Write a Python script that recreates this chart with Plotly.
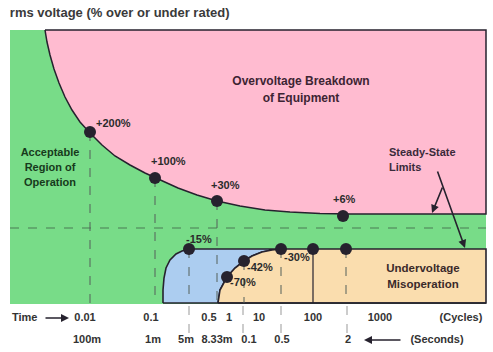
import plotly.graph_objects as go

# ---------------- data (schematic chart coordinates) ----------------
# plot frame
frame_x = [10, 486]
frame_y = [30, 304]
zero_line_y = 228          # rated voltage (dashed)

# overvoltage boundary curve
over_curve_x = [45, 47, 50, 54, 59, 65, 72, 80, 90, 102, 115, 130, 145, 160, 178, 197, 217, 240, 265, 290, 320, 350, 486]
over_curve_y = [30, 42, 55, 69, 83, 97, 110, 122, 133, 145, 156, 165, 173, 180, 188, 195, 201, 206, 210, 212, 213.5, 214, 214]

# undervoltage (blue) left boundary
blue_curve_x = [163, 163, 164, 166, 170, 176, 182, 189]
blue_curve_y = [303, 290, 278, 268, 260, 254, 251, 249]

# undervoltage (tan) boundary
tan_curve_x = [218, 220, 227, 235, 244, 252, 262, 272, 281]
tan_curve_y = [303, 290, 277, 268, 261, 256, 252, 250, 249]
under_level_y = 249
bottom_y = 303

# labelled points
over_pts_x = [90, 155, 217, 343]
over_pts_y = [132, 178, 201, 216]
over_labels = ["+200%", "+100%", "+30%", "+6%"]
over_lab_x = [96, 151, 211, 333]
over_lab_y = [124, 162, 186, 200]

under_pts_x = [189, 227, 244, 281, 313, 346]
under_pts_y = [249, 277, 261, 249, 249, 249]
under_labels = ["-15%", "-70%", "-42%", "-30%"]
under_lab_x = [186, 230, 247, 284]
under_lab_y = [240, 283, 268, 258]

# dashed verticals (x, top)
dash_x = [90, 155, 189, 217, 244, 281, 346]
dash_top = [132, 178, 249, 201, 261, 249, 249]
solid_x = 313
below_dash_x = [189, 243, 281, 347]

# axis labels
cycle_labels = ["0.01", "0.1", "0.5", "1", "10", "100", "1000"]
cycle_pos = [85, 151, 209, 229, 259, 313, 380]
second_labels = ["100m", "1m", "5m", "8.33m", "0.1", "0.5", "2"]
second_pos = [87, 153, 186, 217, 249, 282, 348]
row1_y = 318
row2_y = 340

# ---------------- styles ----------------
GREEN = "#78DC88"
PINK = "#FFBBD0"
BLUE = "#ACCDF0"
TAN = "#FADDAE"
DARK = "#26222E"
FONT = "Liberation Sans, Arial, sans-serif"

fig = go.Figure()

# green background
fig.add_trace(go.Scatter(
    x=[frame_x[0], frame_x[1], frame_x[1], frame_x[0], frame_x[0]],
    y=[frame_y[0], frame_y[0], frame_y[1], frame_y[1], frame_y[0]],
    fill="toself", fillcolor=GREEN, line=dict(width=0), mode="lines", hoverinfo="skip"))

# pink overvoltage region
px = over_curve_x + [frame_x[1], over_curve_x[0]]
py = over_curve_y + [frame_y[0], frame_y[0]]
fig.add_trace(go.Scatter(x=px, y=py, fill="toself", fillcolor=PINK,
                         line=dict(color=DARK, width=1.5), mode="lines", hoverinfo="skip"))

# blue region
bx = blue_curve_x + tan_curve_x[::-1]
by = blue_curve_y + tan_curve_y[::-1]
fig.add_trace(go.Scatter(x=bx, y=by, fill="toself", fillcolor=BLUE,
                         line=dict(color=DARK, width=1.6), mode="lines", hoverinfo="skip"))

# tan region
tx = tan_curve_x + [frame_x[1], frame_x[1], tan_curve_x[0]]
ty = tan_curve_y + [under_level_y, bottom_y, bottom_y]
fig.add_trace(go.Scatter(x=tx, y=ty, fill="toself", fillcolor=TAN,
                         line=dict(color=DARK, width=1.6), mode="lines", hoverinfo="skip"))

# bottom line under blue
fig.add_trace(go.Scatter(x=[blue_curve_x[0], frame_x[1]], y=[bottom_y, bottom_y],
                         mode="lines", line=dict(color=DARK, width=1.6), hoverinfo="skip"))

# dashed rated line
fig.add_trace(go.Scatter(x=frame_x, y=[zero_line_y, zero_line_y], mode="lines",
                         line=dict(color="#4a7a55", width=1, dash="dash"), hoverinfo="skip"))

# dashed verticals
for x0, y0 in zip(dash_x, dash_top):
    fig.add_trace(go.Scatter(x=[x0, x0], y=[y0, bottom_y], mode="lines",
                             line=dict(color="#55605a", width=1, dash="dash"), hoverinfo="skip"))
for x0 in below_dash_x:
    fig.add_trace(go.Scatter(x=[x0, x0], y=[306, 333], mode="lines",
                             line=dict(color="#999999", width=1, dash="dash"), hoverinfo="skip"))
fig.add_trace(go.Scatter(x=[solid_x, solid_x], y=[under_level_y, bottom_y], mode="lines",
                         line=dict(color=DARK, width=1.2), hoverinfo="skip"))

# points
fig.add_trace(go.Scatter(x=over_pts_x + under_pts_x, y=over_pts_y + under_pts_y, mode="markers",
                         marker=dict(size=12, color=DARK), hoverinfo="skip"))

def txt(xs, ys, labels, size=11, color="#2b2b2b", pos="middle right"):
    fig.add_trace(go.Scatter(x=xs, y=ys, text=labels, mode="text", textposition=pos,
                             textfont=dict(family=FONT, size=size, color=color, weight="bold"),
                             hoverinfo="skip", cliponaxis=False))

txt(over_lab_x, over_lab_y, over_labels)
txt(under_lab_x, under_lab_y, under_labels)

# region labels
txt([301, 301], [82, 99], ["Overvoltage Breakdown", "of Equipment"], size=12, color="#3d2433", pos="middle center")
txt([50, 50, 50], [153, 168, 183], ["Acceptable", "Region of", "Operation"], size=11, color="#173a1c", pos="middle center")
txt([389, 389], [153, 168], ["Steady-State", "Limits"], size=11, color="#3a2a3a", pos="middle right")
txt([423, 423], [269, 285], ["Undervoltage", "Misoperation"], size=11.5, color="#3a2a2a", pos="middle center")

# axis rows
txt(cycle_pos, [row1_y] * len(cycle_pos), cycle_labels, size=11, color="#333333", pos="middle center")
txt(second_pos, [row2_y] * len(second_pos), second_labels, size=11, color="#333333", pos="middle center")
txt([12], [row1_y], ["Time"], size=11, color="#333333", pos="middle right")
txt([461], [row1_y], ["(Cycles)"], size=11, color="#333333", pos="middle center")
txt([437], [row2_y], ["(Seconds)"], size=11, color="#333333", pos="middle center")

# arrows
arrows = [
    dict(x=69, y=row1_y, ax=44, ay=row1_y),
    dict(x=364, y=row2_y, ax=402, ay=row2_y),
    dict(x=465, y=248, ax=437, ay=170),
    dict(x=432, y=213, ax=443, ay=186),
]
for a in arrows:
    fig.add_annotation(x=a["x"], y=a["y"], ax=a["ax"], ay=a["ay"], xref="x", yref="y",
                       axref="x", ayref="y", showarrow=True, arrowhead=2, arrowsize=1,
                       arrowwidth=1.6, arrowcolor=DARK, text="")

fig.update_layout(
    width=493, height=352, margin=dict(l=0, r=0, t=0, b=0),
    paper_bgcolor="white", plot_bgcolor="white", showlegend=False,
    xaxis=dict(range=[0, 493], visible=False, fixedrange=True),
    yaxis=dict(range=[352, 0], visible=False, fixedrange=True),
    title=dict(text="rms voltage (% over or under rated)", x=0.02, xanchor="left", y=0.965, yanchor="middle",
               font=dict(family=FONT, size=13, color="#3a3a3a", weight="bold")),
)

fig.write_html("out.html")
